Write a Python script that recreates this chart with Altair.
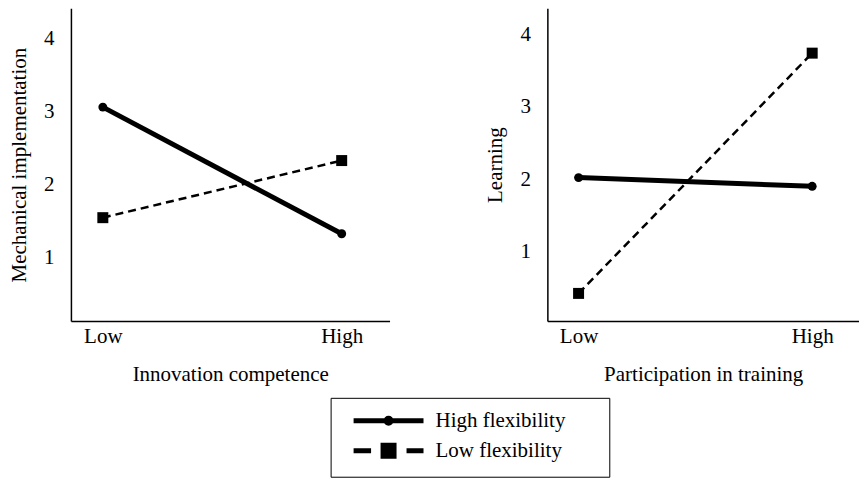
import altair as alt
import pandas as pd

levels = ["Low", "High"]
series = ["High flexibility", "Low flexibility"]
mech_high_flex = [3.06, 1.33]
mech_low_flex = [1.55, 2.33]
learn_high_flex = [2.02, 1.90]
learn_low_flex = [0.42, 3.74]
y_ticks = [1, 2, 3, 4]

FONT = "Liberation Serif"


def ring(cx, r):
    return f"M{cx + r},0A{r},{r},0,1,1,{cx - r},0A{r},{r},0,1,1,{cx + r},0"


def box(cx, h):
    return f"M{cx - h},{-h}L{cx + h},{-h}L{cx + h},{h}L{cx - h},{h}Z"


HIGH_PATH = "M0,0L7,0" + "".join(ring(3.5, r) for r in (0.05, 0.15, 0.25))
LOW_PATH = "M0,0L1.75,0M5.3,0L7,0" + "".join(box(3.5, h) for h in (0.15, 0.35, 0.55))


def frame(a, b):
    rows = []
    for s, vals in zip(series, [a, b]):
        for lv, v in zip(levels, vals):
            rows.append({"level": lv, "series": s, "value": v})
    return pd.DataFrame(rows)


def panel(df, xtitle, ytitle, ydomain, width, with_legend):
    x = alt.X("level:N", sort=levels,
              scale=alt.Scale(type="point", padding=0.167, align=0.4),
              axis=alt.Axis(title=xtitle, labelAngle=0, labelPadding=5, titlePadding=17))
    y = alt.Y("value:Q",
              scale=alt.Scale(domain=ydomain, nice=False, zero=False),
              axis=alt.Axis(title=ytitle, values=y_ticks, labelPadding=17, titlePadding=14))
    base = alt.Chart(df)
    hi = base.transform_filter(alt.datum.series == series[0])
    lo = base.transform_filter(alt.datum.series == series[1])
    layers = [
        lo.mark_line(color="black", strokeWidth=2.5, strokeDash=[8, 5]).encode(x=x, y=y),
        hi.mark_line(color="black", strokeWidth=5).encode(x=x, y=y),
        lo.mark_point(shape="square", filled=True, color="black", size=121, opacity=1).encode(x=x, y=y),
        hi.mark_point(shape="circle", filled=True, color="black", size=80, opacity=1).encode(x=x, y=y),
    ]
    if with_legend:
        layers.append(
            base.mark_point(filled=False, color="black", strokeWidth=5, opacity=0).encode(
                x=x, y=y,
                shape=alt.Shape("series:N",
                                scale=alt.Scale(domain=series, range=[HIGH_PATH, LOW_PATH]),
                                legend=alt.Legend(title=".", titleOrient="right", titleOpacity=0,
                                                  titleFontSize=11, titlePadding=29,
                                                  orient="none", legendX=260, legendY=390,
                                                  symbolSize=400, symbolStrokeWidth=5,
                                                  symbolOpacity=1,
                                                  labelOffset=69.5, rowPadding=2, padding=10.5,
                                                  strokeColor="black")),
            )
        )
    return alt.layer(*layers).properties(width=width, height=313)


left = panel(frame(mech_high_flex, mech_low_flex), "Innovation competence",
             "Mechanical implementation", [0.14, 4.41], 319, True)
right = panel(frame(learn_high_flex, learn_low_flex), "Participation in training",
              "Learning", [0.04, 4.36], 312, False)

chart = alt.hconcat(left, right, spacing=95).properties(padding=0).configure_view(
    strokeWidth=0
).configure_axis(
    domainColor="black", domainWidth=1.5, ticks=False, tickSize=0, grid=False,
    labelFont=FONT, labelFontSize=21, labelColor="black",
    titleFont=FONT, titleFontSize=21, titleFontWeight="normal", titleColor="black",
).configure_legend(
    labelFont=FONT, labelFontSize=21, labelColor="black",
)

chart.save("out.html", embed_options={"renderer": "svg", "actions": False})
